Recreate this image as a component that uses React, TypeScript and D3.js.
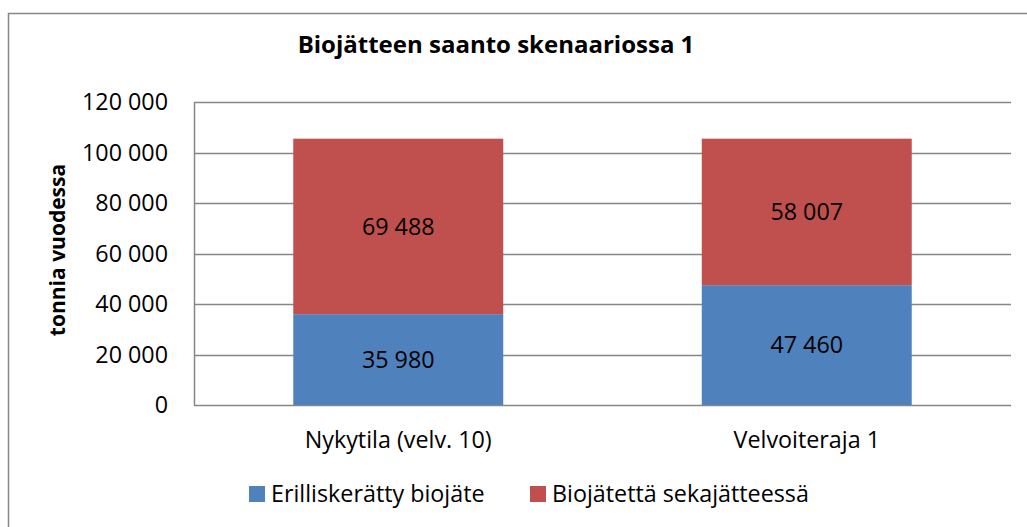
import { useEffect, useRef } from 'react';
import * as d3 from 'd3';

const categories = ['Nykytila (velv. 10)', 'Velvoiteraja 1'];
const seriesNames = ['Erilliskerätty biojäte', 'Biojätettä sekajätteessä'];
const separateValues = [35980, 47460];
const mixedValues = [69488, 58007];
const yTicks = [0, 20000, 40000, 60000, 80000, 100000, 120000];
const colors = ['#4f81bd', '#c0504d'];

const fmt = (v: number) => d3.format(',')(v).replace(/,/g, ' ');

function BioChart() {
  const svgRef = useRef<SVGSVGElement>(null);

  useEffect(() => {
    const width = 1027;
    const height = 527;
    const margin = { left: 194, right: 16, top: 102, bottom: 122 };
    const font = '"Open Sans", sans-serif';
    const fs = 23.3;

    d3.select(svgRef.current).selectAll('*').remove();
    const svg = d3.select(svgRef.current)
      .attr('width', width)
      .attr('height', height);

    svg.append('rect')
      .attr('width', width).attr('height', height).attr('fill', '#fff');

    // chart frame (runs off the right/bottom of the picture)
    svg.append('rect')
      .attr('x', 8.5).attr('y', 13.5)
      .attr('width', 1030).attr('height', 540)
      .attr('fill', 'none').attr('stroke', '#868686').attr('stroke-width', 1.5);

    const x = d3.scaleBand()
      .domain(categories)
      .range([margin.left, width - margin.right])
      .paddingInner(0.486)
      .paddingOuter(0.243);

    const y = d3.scaleLinear()
      .domain([0, 120000])
      .range([height - margin.bottom, margin.top]);

    // gridlines
    svg.append('g')
      .selectAll('line')
      .data(yTicks)
      .join('line')
      .attr('x1', margin.left).attr('x2', width - margin.right)
      .attr('y1', d => Math.round(y(d)) + 0.5).attr('y2', d => Math.round(y(d)) + 0.5)
      .attr('stroke', '#868686').attr('stroke-width', 1.5);

    // y axis line
    svg.append('line')
      .attr('x1', margin.left + 0.5).attr('x2', margin.left + 0.5)
      .attr('y1', y(120000)).attr('y2', y(0) + 0.5)
      .attr('stroke', '#868686').attr('stroke-width', 1.5);

    svg.append('g')
      .selectAll('text')
      .data(yTicks)
      .join('text')
      .attr('x', margin.left - 26)
      .attr('y', d => y(d))
      .attr('dy', '0.35em')
      .attr('text-anchor', 'end')
      .attr('font-family', font).attr('font-size', fs)
      .attr('fill', '#000')
      .text(d => fmt(d));

    // stacked bars
    const rows = categories.map((c, i) => ({ cat: c, a: separateValues[i], b: mixedValues[i] }));
    const stack = d3.stack<any>().keys(['a', 'b'])(rows);

    stack.forEach((layer, li) => {
      const g = svg.append('g');
      g.selectAll('rect')
        .data(layer)
        .join('rect')
        .attr('x', d => x(d.data.cat)!)
        .attr('width', x.bandwidth())
        .attr('y', d => y(d[1]))
        .attr('height', d => y(d[0]) - y(d[1]))
        .attr('fill', colors[li]);
      g.selectAll('text')
        .data(layer)
        .join('text')
        .attr('x', d => x(d.data.cat)! + x.bandwidth() / 2)
        .attr('y', d => (y(d[0]) + y(d[1])) / 2)
        .attr('dy', '0.35em')
        .attr('text-anchor', 'middle')
        .attr('font-family', font).attr('font-size', fs)
        .attr('fill', '#000')
        .text(d => fmt(d[1] - d[0]));
    });

    // category labels
    svg.append('g')
      .selectAll('text')
      .data(categories)
      .join('text')
      .attr('x', d => x(d)! + x.bandwidth() / 2)
      .attr('y', 448)
      .attr('text-anchor', 'middle')
      .attr('font-family', font).attr('font-size', fs)
      .attr('fill', '#000')
      .text(d => d);

    // title
    svg.append('text')
      .attr('x', 496).attr('y', 53)
      .attr('text-anchor', 'middle')
      .attr('font-family', font).attr('font-size', 24).attr('font-weight', 'bold')
      .attr('fill', '#000')
      .text('Biojätteen saanto skenaariossa 1');

    // y axis title
    svg.append('text')
      .attr('transform', 'translate(65, 250) rotate(-90)')
      .attr('text-anchor', 'middle')
      .attr('font-family', font).attr('font-size', 21).attr('font-weight', 'bold')
      .attr('fill', '#000')
      .text('tonnia vuodessa');

    // legend
    const legendX = [249, 530];
    const legend = svg.append('g')
      .selectAll('g')
      .data(seriesNames)
      .join('g')
      .attr('transform', (d, i) => `translate(${legendX[i]}, 0)`);
    legend.append('rect')
      .attr('x', 0).attr('y', 486)
      .attr('width', 16).attr('height', 16)
      .attr('fill', (d, i) => colors[i]);
    legend.append('text')
      .attr('x', 22).attr('y', 502)
      .attr('font-family', font).attr('font-size', fs)
      .attr('fill', '#000')
      .text(d => d);
  }, []);

  return <svg ref={svgRef} style={{ position: 'absolute', left: 0, top: 0, display: 'block' }} />;
}

export default function App() {
  return <BioChart />;
}
